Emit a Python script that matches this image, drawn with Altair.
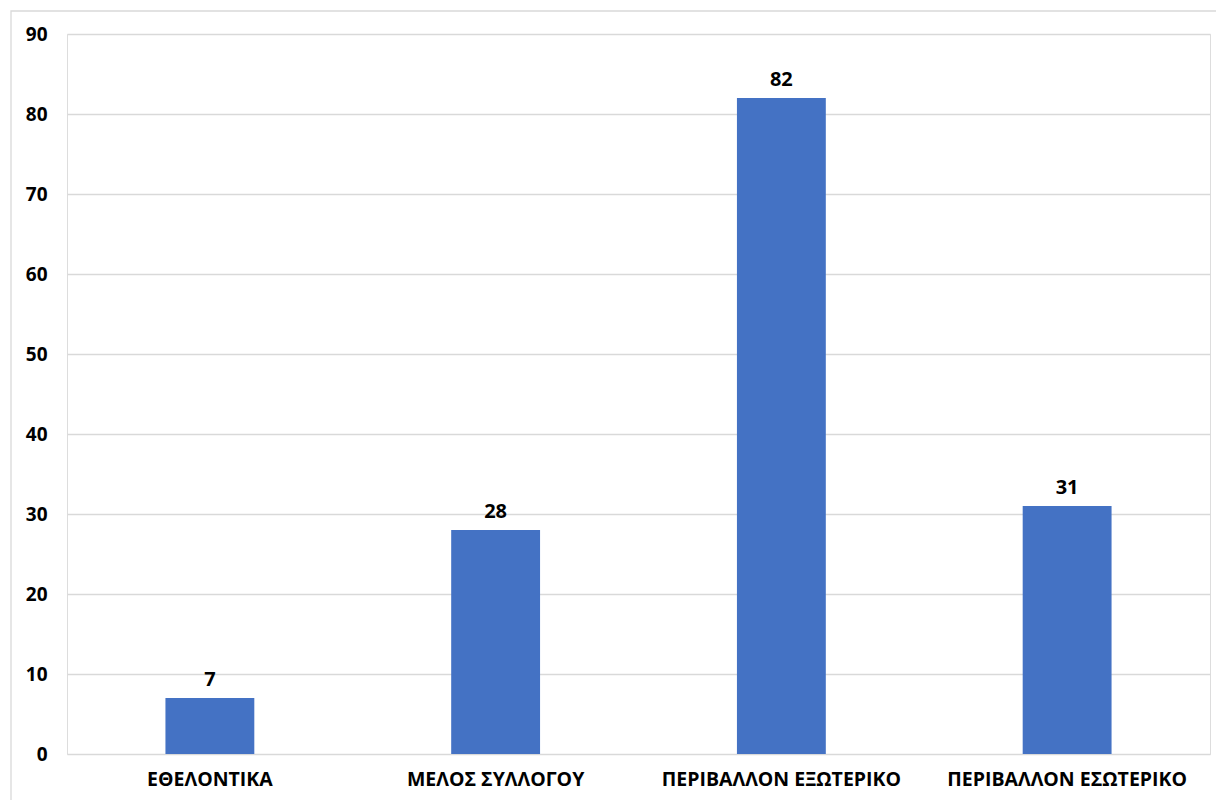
import altair as alt
import pandas as pd

categories = ["ΕΘΕΛΟΝΤΙΚΑ", "ΜΕΛΟΣ ΣΥΛΛΟΓΟΥ", "ΠΕΡΙΒΑΛΛΟΝ ΕΞΩΤΕΡΙΚΟ", "ΠΕΡΙΒΑΛΛΟΝ ΕΣΩΤΕΡΙΚΟ"]
values = [7, 28, 82, 31]

df = pd.DataFrame({"cat": categories, "val": values})

FONT = "Open Sans"

x = alt.X("cat:N", sort=categories, title=None,
          scale=alt.Scale(paddingInner=0.689, paddingOuter=0.3445),
          axis=alt.Axis(labelAngle=0, ticks=False, domain=False, labelPadding=16,
                        labelFont=FONT, labelFontSize=19.5, labelFontWeight="bold",
                        labelColor="#000000", grid=False, labelLimit=0))
y = alt.Y("val:Q", title=None,
          scale=alt.Scale(domain=[0, 90], nice=False),
          axis=alt.Axis(values=list(range(0, 91, 10)), ticks=False, domain=False,
                        labelPadding=20, labelFont=FONT, labelFontSize=19,
                        labelFontWeight="bold", labelColor="#000000",
                        gridColor="#d9d9d9", gridWidth=1.3))

border = alt.Chart(pd.DataFrame({"a": [0]})).mark_rect(
    fillOpacity=0, stroke="#d9d9d9", strokeWidth=1.3
).encode(x=alt.value(-56), x2=alt.value(1180), y=alt.value(-23), y2=alt.value(800))

bars = alt.Chart(df).mark_bar(color="#4472C4").encode(x=x, y=y)

labels = alt.Chart(df).mark_text(
    baseline="alphabetic", dy=-12, font=FONT, fontSize=20, fontWeight="bold", color="#000000"
).encode(x=alt.X("cat:N", sort=categories), y="val:Q", text="val:Q")

chart = alt.layer(border, bars, labels).properties(
    width=1143, height=720,
    padding={"left": 67, "top": 34, "right": 6, "bottom": 46},
    autosize=alt.AutoSizeParams(type="none"),
).configure_view(stroke=None).configure(background="white")

chart.save("out.html", embed_options={"renderer": "svg", "actions": False})
